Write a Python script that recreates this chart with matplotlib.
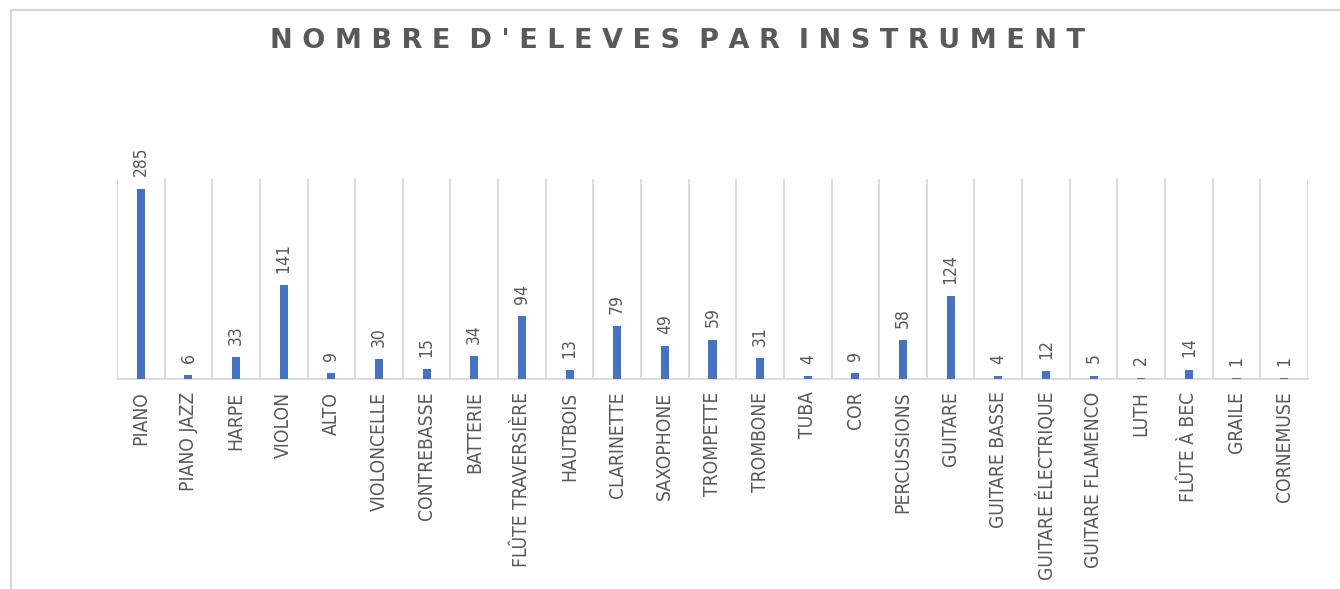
import matplotlib
matplotlib.use('Agg')
import matplotlib.pyplot as plt
from matplotlib.lines import Line2D

# Données : nombre d'élèves par instrument
instruments = ['PIANO', 'PIANO JAZZ', 'HARPE', 'VIOLON', 'ALTO', 'VIOLONCELLE',
               'CONTREBASSE', 'BATTERIE', 'FLÛTE TRAVERSIÈRE', 'HAUTBOIS',
               'CLARINETTE', 'SAXOPHONE', 'TROMPETTE', 'TROMBONE', 'TUBA', 'COR',
               'PERCUSSIONS', 'GUITARE', 'GUITARE BASSE', 'GUITARE ÉLECTRIQUE',
               'GUITARE FLAMENCO', 'LUTH', 'FLÛTE À BEC', 'GRAILE', 'CORNEMUSE']
eleves = [285, 6, 33, 141, 9, 30, 15, 34, 94, 13, 79, 49, 59, 31, 4, 9, 58,
          124, 4, 12, 5, 2, 14, 1, 1]

title = "NOMBRE D'ELEVES PAR INSTRUMENT"

grey_txt = '#595959'
grey_line = '#d9d9d9'
blue = '#4472C4'

W, H = 1340, 589
fig = plt.figure(figsize=(W / 100, H / 100), dpi=100)
ax = fig.add_axes([0.0873, 0.3565, 0.8888, 0.3396])

x = list(range(len(instruments)))
bars = ax.bar(x, eleves, width=0.17, color=blue, zorder=3)

# Étiquettes de données, verticales (police condensée)
ax.bar_label(bars, padding=9, rotation=90, fontsize=12.5,
             family='DejaVu Sans', fontstretch='condensed', color=grey_txt)

ax.set_xlim(-0.5, len(instruments) - 0.5)
ax.set_ylim(0, 300)

# Séparateurs verticaux entre catégories
for k in range(len(instruments) + 1):
    ax.axvline(k - 0.5, color=grey_line, lw=1.3, zorder=1)

ax.set_xticks(x)
ax.set_xticklabels(instruments, rotation=90, fontsize=13.8,
                   family='DejaVu Sans', fontstretch='condensed', color=grey_txt)
ax.tick_params(axis='x', length=0, pad=9)
ax.set_yticks([])

for s in ['top', 'right', 'left']:
    ax.spines[s].set_visible(False)
ax.spines['bottom'].set_color(grey_line)
ax.spines['bottom'].set_linewidth(1.3)

# Titre espacé (une espace entre lettres, deux entre mots)
spaced = '  '.join(' '.join(w) for w in title.split(' '))
fig.text(678 / W, 1 - 41.5 / H, spaced, ha='center', va='center', fontsize=19.5,
         fontweight='bold', family='DejaVu Sans', color=grey_txt)

# Cadre du graphique (haut et gauche)
fig.add_artist(Line2D([11 / W, 1.0], [1 - 10 / H, 1 - 10 / H],
                      color=grey_line, lw=1.6))
fig.add_artist(Line2D([11 / W, 11 / W], [0, 1 - 10 / H],
                      color=grey_line, lw=1.6))

fig.savefig('out.png', dpi=100, facecolor='white')
